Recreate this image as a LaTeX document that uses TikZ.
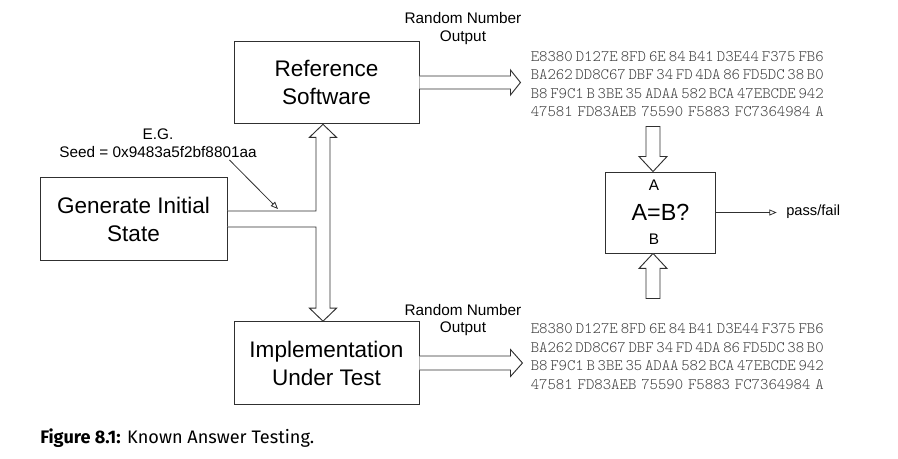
\documentclass[tikz,border=0pt]{standalone}
\usepackage{fontspec}
\setmainfont{Liberation Sans}
\setmonofont{Latin Modern Mono Light}
\newfontfamily\capfont{Fira Sans}
\usetikzlibrary{arrows.meta,calc}

\definecolor{hexgray}{HTML}{404040}
\definecolor{linegray}{HTML}{303030}
\newcommand\hexline[1]{\hbox to 219.75pt{#1}}

\tikzset{
  box/.style={draw=linegray, line width=0.7pt, align=center, inner sep=0pt,
    minimum width=138.75pt, minimum height=62pt,
    font=\fontsize{16.9}{21}\selectfont},
  lbl/.style={align=center, inner sep=0pt, font=\fontsize{11.5}{13.2}\selectfont},
  hex/.style={align=left, inner sep=0pt, text=hexgray,
    font=\ttfamily\fontsize{12}{13.95}\selectfont},
  blk/.style={draw=linegray, line width=0.7pt, fill=white, line join=miter},
  thin/.style={draw=linegray, line width=0.6pt,
    -{Triangle[open, length=5.5pt, width=4.5pt]}}
}

\begin{document}
\begin{tikzpicture}[x=0.75pt, y=-0.75pt]
\useasboundingbox (0,0) rectangle (898,459);

\node[box] (ref) at (326.5,82.5) {Reference\\Software};
\node[box, minimum width=140.25pt] (gen) at (133.5,219) {Generate Initial\\State};
\node[box] (iut) at (326.5,363) {Implementation\\Under Test};
\node[box, minimum width=82.5pt, minimum height=60.75pt,
  font=\fontsize{17.5}{21}\selectfont] (cmp) at (660.5,212.5) {A=B?};
\node[lbl] (cmpA) at (654,185) {A};
\node[lbl] (cmpB) at (654,239) {B};

\node[lbl] (seed) at (158,143.5) {E.G.\\Seed = 0x9483a5f2bf8801aa};
\node[lbl] (rnoTop) at (463,28.5) {Random Number\\Output};
\node[lbl] (rnoBot) at (463,320) {Random Number\\Output};

\node[hex, anchor=west] (hexTop) at (530.5,84) {%
  \hexline{E8380\hfil D127E\hfil 8FD\hfil 6E\hfil 84\hfil B41\hfil D3E44\hfil F375\hfil FB6}\\
  \hexline{BA262\hfil DD8C67\hfil DBF\hfil 34\hfil FD\hfil 4DA\hfil 86\hfil FD5DC\hfil 38\hfil B0}\\
  \hexline{B8\hfil F9C1\hfil B\hfil 3BE\hfil 35\hfil ADAA\hfil 582\hfil BCA\hfil 47EBCDE\hfil 942}\\
  \hexline{47581\hfil FD83AEB\hfil 75590\hfil F5883\hfil FC7364984\hfil A}};
\node[hex, anchor=west] (hexBot) at (530.5,356.5) {%
  \hexline{E8380\hfil D127E\hfil 8FD\hfil 6E\hfil 84\hfil B41\hfil D3E44\hfil F375\hfil FB6}\\
  \hexline{BA262\hfil DD8C67\hfil DBF\hfil 34\hfil FD\hfil 4DA\hfil 86\hfil FD5DC\hfil 38\hfil B0}\\
  \hexline{B8\hfil F9C1\hfil B\hfil 3BE\hfil 35\hfil ADAA\hfil 582\hfil BCA\hfil 47EBCDE\hfil 942}\\
  \hexline{47581\hfil FD83AEB\hfil 75590\hfil F5883\hfil FC7364984\hfil A}};

\node[lbl, anchor=west, font=\fontsize{11}{13}\selectfont] (pf) at (786,212) {pass/fail};

\node[anchor=west, inner sep=0pt, font=\capfont\fontsize{13.6}{16}\selectfont] (cap) at (40,438)
  {\textbf{Figure 8.1:} Known Answer Testing.};

% seed goes to both
\coordinate (upTip) at ($(ref.south)+(-3.5,0)$);
\coordinate (downTip) at ($(iut.north)+(-3.5,0)$);
\draw[blk] (upTip) -- ++(13.5,13) -- ++(-6.5,0) -- ($(downTip)+(7,-13)$) -- ++(6.5,0)
  -- (downTip) -- ++(-13.5,-13) -- ++(6.5,0) |- ($(gen.east)+(0,8)$);
\draw[blk] ($(gen.east)+(0,-8)$) -| ($(upTip)+(-7,13)$) -- ++(-6.5,0) -- (upTip);

\coordinate (seedTip) at (278,209);
\draw[thin] ($(seed.south east)+(-27.5,2)$) -- (seedTip);

% outputs
\draw[blk] (ref.east) ++(0,-6.5) -- ++(91,0) -- ++(0,-6) -- ++(10,12.5) -- ++(-10,12.5)
  -- ++(0,-6) -- ++(-91,0);
\draw[blk] (iut.east) ++(0,-7) -- ++(91,0) -- ++(0,-6.5) -- ++(12,13.5) -- ++(-12,13.5)
  -- ++(0,-6.5) -- ++(-91,0);

% compare
\draw[blk] ($(cmp.north)+(-7.5,0)$) -- ++(14,-15) -- ++(-7,0) -- ++(0,-30) -- ++(-14,0)
  -- ++(0,30) -- ++(-7,0) -- cycle;
\draw[blk] ($(cmp.south)+(-7.5,0)$) -- ++(14,15) -- ++(-7,0) -- ++(0,30) -- ++(-14,0)
  -- ++(0,-30) -- ++(-7,0) -- cycle;
\draw[thin] (cmp.east) -- ([xshift=-7pt]cmp.east -| pf.west);
\end{tikzpicture}
\end{document}
